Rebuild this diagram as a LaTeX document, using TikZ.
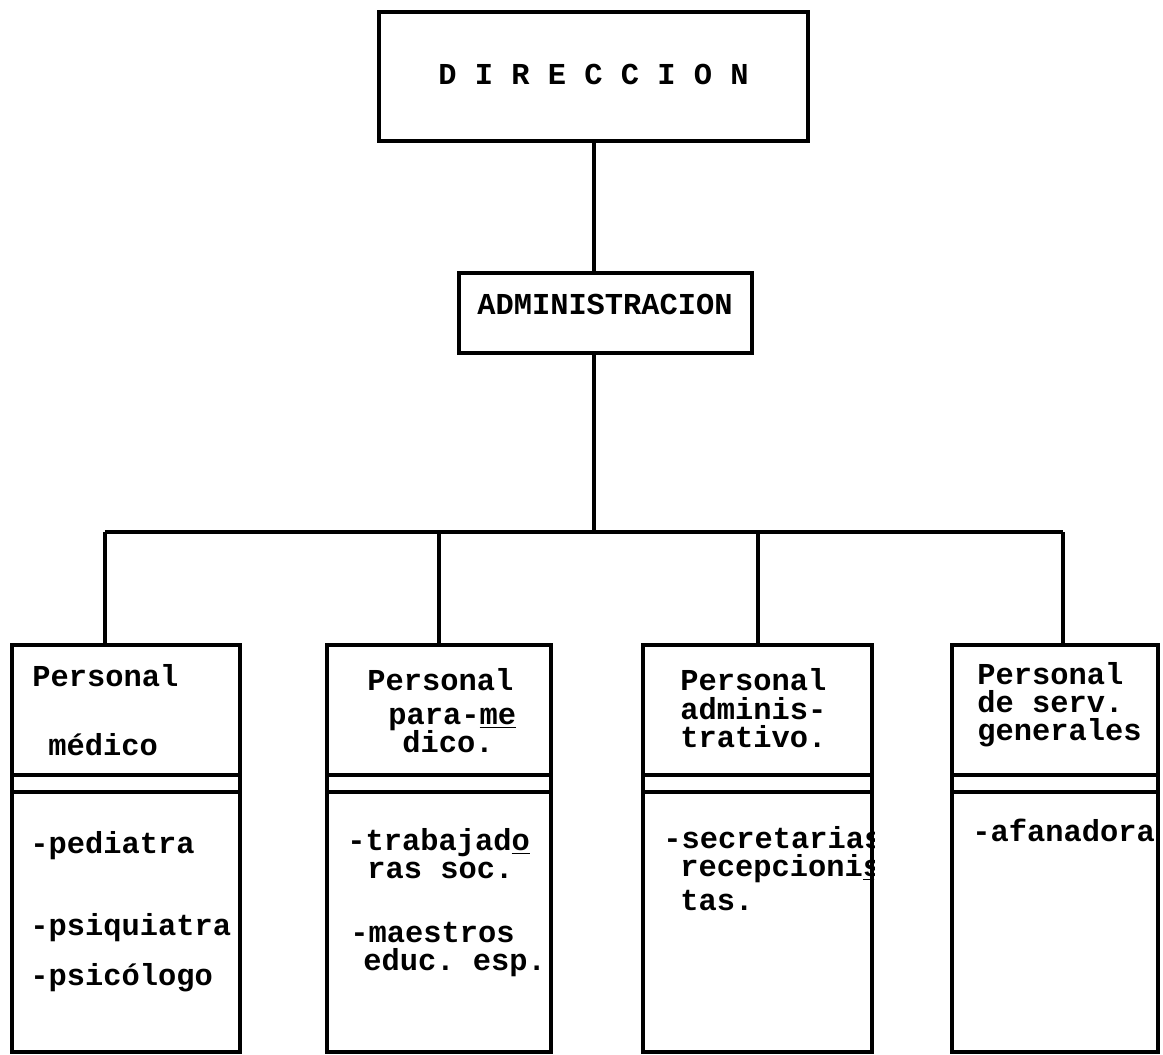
\documentclass[tikz,border=0pt]{standalone}
\usepackage{fontspec}
\setmonofont{Liberation Mono}
\tikzset{
  unit/.style={draw,line width=2pt,inner sep=0pt},
  link/.style={line width=2pt},
  typed/.style={font=\ttfamily\bfseries\fontsize{15.2}{18}\selectfont,
    inner sep=0pt,text height=0.7em,text depth=0.2em,anchor=base west}
}
\begin{document}
\begin{tikzpicture}[x=0.5pt,y=-0.5pt]
\useasboundingbox (0,0) rectangle (1163,1055);
% top levels
\node[unit,typed,anchor=center,text height=0.95em,minimum width=214.5pt,minimum height=64.5pt] (dir) at (593.5,76.5) {D I R E C C I O N};
\node[unit,minimum width=146.5pt,minimum height=40pt] (adm) at (605.5,313) {};
\node[typed,anchor=base] (admlbl) at (605,314) {ADMINISTRACION};
% staff columns
\node[unit,minimum width=114pt,minimum height=203.5pt] (med) at (126,848.5) {};
\node[unit,minimum width=112pt,minimum height=203.5pt] (para) at (439,848.5) {};
\node[unit,minimum width=114.5pt,minimum height=203.5pt] (admv) at (757.5,848.5) {};
\node[unit,minimum width=103pt,minimum height=203.5pt] (gen) at (1055,848.5) {};
\foreach \b in {med,para,admv,gen}{
  \draw[link] (\b.west |- 0,775) -- (\b.east |- 0,775);
  \draw[link] (\b.west |- 0,792) -- (\b.east |- 0,792);
}
% connectors
\coordinate (busL) at (105,532);
\coordinate (busR) at (1063,532);
\draw[link] (dir.south) -- (dir.south |- adm.north);
\draw[link] (dir.south |- adm.south) -- (dir.south |- busL);
\draw[link] (busL) -- (busR);
\draw[link] (busL) -- (busL |- med.north);
\draw[link] (para.north |- busL) -- (para.north);
\draw[link] (admv.north |- busL) -- (admv.north);
\draw[link] (busR) -- (busR |- gen.north);
% texts
\node[typed] (med1) at (32,686) {Personal};
\node[typed] (med2) at (48,755) {médico};
\node[typed] (med3) at (30,853) {-pediatra};
\node[typed] (med4) at (30,935) {-psiquiatra};
\node[typed] (med5) at (30,985) {-psicólogo};
\node[typed] (para1) at (367,690) {Personal};
\node[typed] (para2) at (388,724) {para-\underline{me}};
\node[typed] (para3) at (402,752) {dico.};
\node[typed] (para4) at (347,850) {-trabajad\underline{o}};
\node[typed] (para5) at (367,878) {ras soc.};
\node[typed] (para6) at (350,942) {-maestros};
\node[typed] (para7) at (363,970) {educ. esp.};
\begin{scope}
\clip (admv.north west) rectangle (admv.south east);
\node[typed] (admv1) at (680,690) {Personal};
\node[typed] (admv2) at (680,719) {adminis-};
\node[typed] (admv3) at (680,747) {trativo.};
\node[typed] (admv4) at (663,848) {-secretarias};
\node[typed] (admv5) at (680,876) {recepcioni\underline{s}};
\node[typed] (admv6) at (680,910) {tas.};
\end{scope}
\begin{scope}
\clip (gen.north west) rectangle (gen.south east);
\node[typed] (gen1) at (977,684) {Personal};
\node[typed] (gen2) at (977,712) {de serv.};
\node[typed] (gen3) at (977,740) {generales};
\node[typed] (gen4) at (972,841) {-afanadora};
\end{scope}
\end{tikzpicture}
\end{document}
